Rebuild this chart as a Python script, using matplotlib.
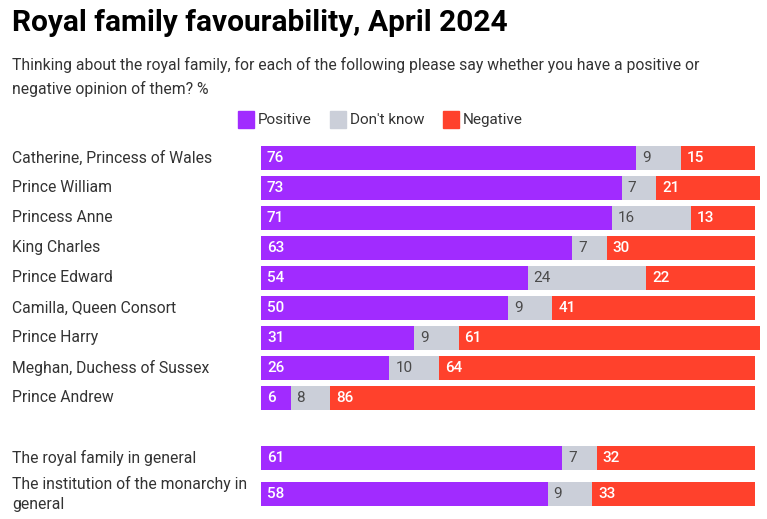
import matplotlib.pyplot as plt
from matplotlib.patches import Rectangle

names = ['Catherine, Princess of Wales', 'Prince William', 'Princess Anne', 'King Charles',
         'Prince Edward', 'Camilla, Queen Consort', 'Prince Harry', 'Meghan, Duchess of Sussex',
         'Prince Andrew', 'The royal family in general',
         'The institution of the monarchy in\ngeneral']
positive = [76, 73, 71, 63, 54, 50, 31, 26, 6, 61, 58]
dont_know = [9, 7, 16, 7, 24, 9, 9, 10, 8, 7, 9]
negative = [15, 21, 13, 30, 22, 41, 61, 64, 86, 32, 33]
rows = [0, 1, 2, 3, 4, 5, 6, 7, 8, 10, 11.2]

purple = '#A12BFF'
grey = '#CBCFD9'
red = '#FF412C'

plt.rcParams['font.family'] = ['Roboto', 'DejaVu Sans']

W, H = 767, 519
fig = plt.figure(figsize=(W / 100, H / 100), dpi=100)

# axes placed in pixel coords: bars start at x=261, 100% at x=755
ax = fig.add_axes([261 / W, 8 / H, 494 / W, 368 / H])
ax.set_xlim(0, 100)
ax.set_ylim(11.767, -0.5)
ax.axis('off')

h = 0.8
ax.barh(rows, positive, height=h, color=purple, clip_on=False)
ax.barh(rows, dont_know, left=positive, height=h, color=grey, clip_on=False)
lefts = [p + d for p, d in zip(positive, dont_know)]
ax.barh(rows, negative, left=lefts, height=h, color=red, clip_on=False)

pad = 1.2
fs = 11
for y, p, d, n, l, name in zip(rows, positive, dont_know, negative, lefts, names):
    ax.text(pad, y, str(p), color='white', fontsize=fs, va='center', ha='left', fontweight='medium')
    ax.text(p + pad, y, str(d), color='#4a4a4a', fontsize=fs, va='center', ha='left')
    ax.text(l + pad, y, str(n), color='white', fontsize=fs, va='center', ha='left', fontweight='medium')
    ax.text(-249 / 4.94, y, name, color='#333333', fontsize=11.3, va='center', ha='left',
            linespacing=1.4, clip_on=False)

# title and subtitle
fig.text(12 / W, 1 - 23 / H, 'Royal family favourability, April 2024', fontsize=21.5,
         fontweight='bold', va='center', ha='left', color='black')
fig.text(12 / W, 1 - 77 / H,
         'Thinking about the royal family, for each of the following please say whether you have a positive or\nnegative opinion of them? %',
         fontsize=11.3, va='center', ha='left', color='#333333', linespacing=1.6)

# legend
items = [('Positive', purple, 238), ("Don't know", grey, 330), ('Negative', red, 443)]
for label, c, x in items:
    fig.patches.append(Rectangle((x / W, 1 - 128 / H), 16 / W, 17 / H, color=c,
                                 transform=fig.transFigure, figure=fig))
    fig.text((x + 20) / W, 1 - 120 / H, label, fontsize=11, va='center', ha='left', color='#333333')

fig.savefig('out.png', dpi=100)
